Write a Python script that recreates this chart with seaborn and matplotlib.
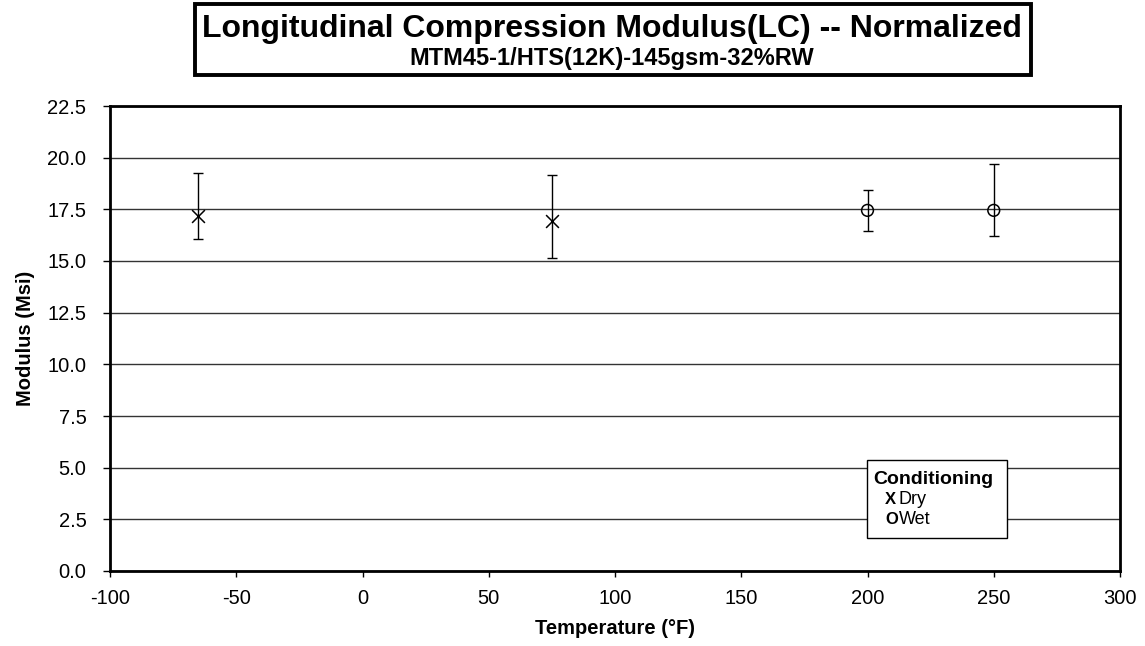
import matplotlib
matplotlib.use("Agg")
import matplotlib.pyplot as plt
import seaborn as sns
import pandas as pd
from matplotlib.patches import Rectangle

# Data
temps = [-65, 75, 200, 250]
conditioning = ["Dry", "Dry", "Wet", "Wet"]
modulus = [17.18, 16.95, 17.45, 17.45]
err_low = [16.08, 15.13, 16.45, 16.21]
err_high = [19.24, 19.18, 18.44, 19.71]
x_ticks = [-100, -50, 0, 50, 100, 150, 200, 250, 300]
y_ticks = [0.0, 2.5, 5.0, 7.5, 10.0, 12.5, 15.0, 17.5, 20.0, 22.5]
legend_title = "Conditioning"
legend_symbols = ["X", "O"]
legend_labels = ["Dry", "Wet"]

df = pd.DataFrame({"Temperature": temps, "Conditioning": conditioning,
                   "Modulus": modulus, "lo": err_low, "hi": err_high})

sns.set_style("white")
plt.rcParams["font.family"] = ["Liberation Sans", "DejaVu Sans"]
for k in ["text.color", "axes.labelcolor", "xtick.color", "ytick.color"]:
    plt.rcParams[k] = "black"

W, H = 1145, 646
fig = plt.figure(figsize=(W / 100, H / 100), dpi=100)
ax = fig.add_axes([110 / W, 1 - 571 / H, 1010 / W, 465 / H])

# error bars
for _, r in df.iterrows():
    ax.errorbar(r["Temperature"], r["Modulus"],
                yerr=[[r["Modulus"] - r["lo"]], [r["hi"] - r["Modulus"]]],
                fmt="none", ecolor="black", elinewidth=1.0, capsize=3.4, capthick=1.0, zorder=3)

dry = df[df["Conditioning"] == "Dry"]
wet = df[df["Conditioning"] == "Wet"]
sns.scatterplot(data=dry, x="Temperature", y="Modulus", marker="x", s=85,
                color="black", linewidth=1.1, legend=False, ax=ax, zorder=4)
sns.scatterplot(data=wet, x="Temperature", y="Modulus", marker="o", s=72,
                facecolor="none", edgecolor="black", linewidth=1.1, legend=False, ax=ax, zorder=4)

ax.set_xlim(-100, 300)
ax.set_ylim(0, 22.5)
ax.set_xticks(x_ticks)
ax.set_yticks(y_ticks)
ax.set_xticklabels([str(t) for t in x_ticks], fontsize=14.5)
ax.set_yticklabels([f"{t:.1f}" for t in y_ticks], fontsize=14.5)
ax.yaxis.grid(True, color="#333333", linewidth=1.0)
ax.xaxis.grid(False)
ax.set_axisbelow(True)
for s in ax.spines.values():
    s.set_color("black")
    s.set_linewidth(2.0)
ax.tick_params(axis="y", direction="out", length=5, width=1.0, color="black", left=True, pad=12)
ax.tick_params(axis="x", direction="out", length=4, width=1.0, color="black", bottom=True, pad=9)
ax.set_xlabel("Temperature (°F)", fontsize=14.5, fontweight="bold", labelpad=8)
ax.set_ylabel("Modulus (Msi)", fontsize=14.5, fontweight="bold", labelpad=9)

# legend box (manual, Excel-like)
def fx(px):
    return px / W

def fy(py):
    return 1 - py / H

fig.patches.append(Rectangle((fx(867), fy(538)), fx(1007) - fx(867), fy(460) - fy(538),
                             transform=fig.transFigure, facecolor="white", edgecolor="black",
                             linewidth=1.0, zorder=6))
fig.text(fx(873), fy(479), legend_title, ha="left", va="center", fontsize=14,
         fontweight="bold", zorder=7)
for i, (sym, lab) in enumerate(zip(legend_symbols, legend_labels)):
    yy = fy(500 + 20 * i)
    fig.text(fx(885), yy, sym, ha="left", va="center", fontsize=12, fontweight="bold", zorder=7)
    fig.text(fx(899), yy, lab, ha="left", va="center", fontsize=13, zorder=7)

# title box
fig.patches.append(Rectangle((fx(195), fy(75)), fx(1031) - fx(195), fy(4) - fy(75),
                             transform=fig.transFigure, fill=False, edgecolor="black",
                             linewidth=2.8, zorder=5))
fig.text(fx(612), fy(37), "Longitudinal Compression Modulus(LC) -- Normalized",
         ha="center", va="baseline", fontsize=23, fontweight="bold")
fig.text(fx(612), fy(65), "MTM45-1/HTS(12K)-145gsm-32%RW",
         ha="center", va="baseline", fontsize=17, fontweight="bold")

fig.savefig("out.png", dpi=100)
